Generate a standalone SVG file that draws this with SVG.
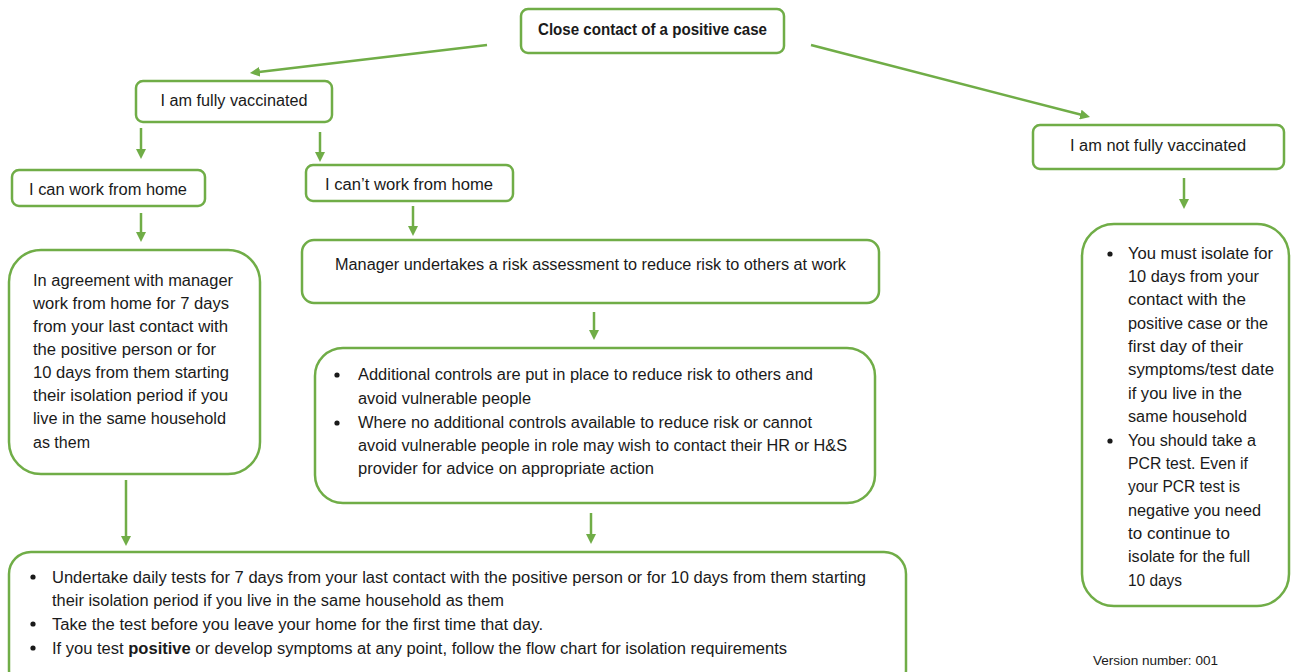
<svg xmlns="http://www.w3.org/2000/svg" width="1296" height="672" viewBox="0 0 1296 672">
<style>
.box{fill:#fff;stroke:#70AD47;stroke-width:2.5}
.t{font-family:"Liberation Sans",Arial,sans-serif;font-size:16px;fill:#1a1a1a}
.c{text-anchor:middle}
.b{font-weight:bold}
.edge{stroke:#70AD47;stroke-width:2.5;fill:none}
</style>
<defs>
<marker id="ah" viewBox="0 0 10 10" refX="1" refY="5" markerWidth="10" markerHeight="10" markerUnits="userSpaceOnUse" orient="auto">
<path d="M0,0 L10,5 L0,10 z" fill="#70AD47"/>
</marker>
</defs>
<rect width="1296" height="672" fill="#fff"/>

<g id="connectors">
<line class="edge" x1="487" y1="45" x2="258.9" y2="71.9" marker-end="url(#ah)"/>
<line class="edge" x1="811" y1="45" x2="1081.3" y2="114.8" marker-end="url(#ah)"/>
<line class="edge" x1="141" y1="128" x2="141" y2="150" marker-end="url(#ah)"/>
<line class="edge" x1="320" y1="132" x2="320" y2="153" marker-end="url(#ah)"/>
<line class="edge" x1="141" y1="213" x2="141" y2="233" marker-end="url(#ah)"/>
<line class="edge" x1="413" y1="206" x2="413" y2="227" marker-end="url(#ah)"/>
<line class="edge" x1="126" y1="480" x2="126" y2="537" marker-end="url(#ah)"/>
<line class="edge" x1="594" y1="312" x2="594" y2="331" marker-end="url(#ah)"/>
<line class="edge" x1="591" y1="513" x2="591" y2="535" marker-end="url(#ah)"/>
<line class="edge" x1="1184" y1="178" x2="1184" y2="200" marker-end="url(#ah)"/>
</g>

<g id="close-contact">
<rect class="box" x="521" y="9" width="263" height="44" rx="7"/>
<text class="t c b" x="652.5" y="35" textLength="229" lengthAdjust="spacingAndGlyphs">Close contact of a positive case</text>
</g>

<g id="fully-vaccinated">
<rect class="box" x="136" y="81" width="196" height="41" rx="7"/>
<text class="t c" x="234" y="106" textLength="147" lengthAdjust="spacingAndGlyphs">I am fully vaccinated</text>
</g>

<g id="not-fully-vaccinated">
<rect class="box" x="1033" y="125" width="251" height="44" rx="7"/>
<text class="t c" x="1158" y="151" textLength="176" lengthAdjust="spacingAndGlyphs">I am not fully vaccinated</text>
</g>

<g id="can-work-from-home">
<rect class="box" x="12" y="170" width="193" height="36" rx="7"/>
<text class="t" x="29" y="195" textLength="158" lengthAdjust="spacingAndGlyphs">I can work from home</text>
</g>

<g id="cant-work-from-home">
<rect class="box" x="306" y="165" width="207" height="36" rx="7"/>
<text class="t" x="325" y="190" textLength="168" lengthAdjust="spacingAndGlyphs">I can’t work from home</text>
</g>

<g id="work-from-home-detail">
<rect class="box" x="9" y="250" width="251" height="224" rx="32"/>
<text class="t" x="33" y="286" textLength="200" lengthAdjust="spacingAndGlyphs">In agreement with manager</text>
<text class="t" x="33" y="309" textLength="196" lengthAdjust="spacingAndGlyphs">work from home for 7 days</text>
<text class="t" x="33" y="332" textLength="195" lengthAdjust="spacingAndGlyphs">from your last contact with</text>
<text class="t" x="33" y="355" textLength="183" lengthAdjust="spacingAndGlyphs">the positive person or for</text>
<text class="t" x="33" y="378" textLength="196" lengthAdjust="spacingAndGlyphs">10 days from them starting</text>
<text class="t" x="33" y="401" textLength="195" lengthAdjust="spacingAndGlyphs">their isolation period if you</text>
<text class="t" x="33" y="424" textLength="193" lengthAdjust="spacingAndGlyphs">live in the same household</text>
<text class="t" x="33" y="448" textLength="57" lengthAdjust="spacingAndGlyphs">as them</text>
</g>

<g id="risk-assessment">
<rect class="box" x="302" y="240" width="577" height="63" rx="12"/>
<text class="t" x="335" y="270" textLength="511" lengthAdjust="spacingAndGlyphs">Manager undertakes a risk assessment to reduce risk to others at work</text>
</g>

<g id="additional-controls">
<rect class="box" x="315" y="348" width="560" height="155" rx="28"/>
<circle cx="337" cy="375" r="2.6" fill="#1a1a1a"/>
<text class="t" x="358" y="380" textLength="455" lengthAdjust="spacingAndGlyphs">Additional controls are put in place to reduce risk to others and</text>
<text class="t" x="358" y="404" textLength="173" lengthAdjust="spacingAndGlyphs">avoid vulnerable people</text>
<circle cx="337" cy="423" r="2.6" fill="#1a1a1a"/>
<text class="t" x="358" y="428" textLength="454" lengthAdjust="spacingAndGlyphs">Where no additional controls available to reduce risk or cannot</text>
<text class="t" x="358" y="451" textLength="489" lengthAdjust="spacingAndGlyphs">avoid vulnerable people in role may wish to contact their HR or H&amp;S</text>
<text class="t" x="358" y="474" textLength="296" lengthAdjust="spacingAndGlyphs">provider for advice on appropriate action</text>
</g>

<g id="daily-tests">
<rect class="box" x="9" y="552" width="897" height="140" rx="22"/>
<circle cx="33" cy="577" r="2.6" fill="#1a1a1a"/>
<text class="t" x="52" y="583" textLength="814" lengthAdjust="spacingAndGlyphs">Undertake daily tests for 7 days from your last contact with the positive person or for 10 days from them starting</text>
<text class="t" x="52" y="606" textLength="452" lengthAdjust="spacingAndGlyphs">their isolation period if you live in the same household as them</text>
<circle cx="33" cy="624" r="2.6" fill="#1a1a1a"/>
<text class="t" x="52" y="630" textLength="491" lengthAdjust="spacingAndGlyphs">Take the test before you leave your home for the first time that day.</text>
<circle cx="33" cy="648" r="2.6" fill="#1a1a1a"/>
<text class="t" x="52" y="654" textLength="735" lengthAdjust="spacingAndGlyphs">If you test <tspan class="b">positive</tspan> or develop symptoms at any point, follow the flow chart for isolation requirements</text>
</g>

<g id="isolate-detail">
<rect class="box" x="1082" y="224" width="207" height="382" rx="32"/>
<circle cx="1110" cy="254" r="2.6" fill="#1a1a1a"/>
<text class="t" x="1128" y="259" textLength="145" lengthAdjust="spacingAndGlyphs">You must isolate for</text>
<text class="t" x="1128" y="282" textLength="131" lengthAdjust="spacingAndGlyphs">10 days from your</text>
<text class="t" x="1128" y="305" textLength="118" lengthAdjust="spacingAndGlyphs">contact with the</text>
<text class="t" x="1128" y="329" textLength="140" lengthAdjust="spacingAndGlyphs">positive case or the</text>
<text class="t" x="1128" y="352" textLength="115" lengthAdjust="spacingAndGlyphs">first day of their</text>
<text class="t" x="1128" y="375" textLength="146" lengthAdjust="spacingAndGlyphs">symptoms/test date</text>
<text class="t" x="1128" y="399" textLength="114" lengthAdjust="spacingAndGlyphs">if you live in the</text>
<text class="t" x="1128" y="422" textLength="119" lengthAdjust="spacingAndGlyphs">same household</text>
<circle cx="1110" cy="441" r="2.6" fill="#1a1a1a"/>
<text class="t" x="1128" y="446" textLength="128" lengthAdjust="spacingAndGlyphs">You should take a</text>
<text class="t" x="1128" y="469" textLength="120" lengthAdjust="spacingAndGlyphs">PCR test. Even if</text>
<text class="t" x="1128" y="492" textLength="112" lengthAdjust="spacingAndGlyphs">your PCR test is</text>
<text class="t" x="1128" y="516" textLength="133" lengthAdjust="spacingAndGlyphs">negative you need</text>
<text class="t" x="1128" y="539" textLength="102" lengthAdjust="spacingAndGlyphs">to continue to</text>
<text class="t" x="1128" y="562" textLength="122" lengthAdjust="spacingAndGlyphs">isolate for the full</text>
<text class="t" x="1128" y="586" textLength="54" lengthAdjust="spacingAndGlyphs">10 days</text>
</g>

<text class="t" x="1093" y="665" style="font-size:12.5px" textLength="125" lengthAdjust="spacingAndGlyphs">Version number: 001</text>
</svg>
